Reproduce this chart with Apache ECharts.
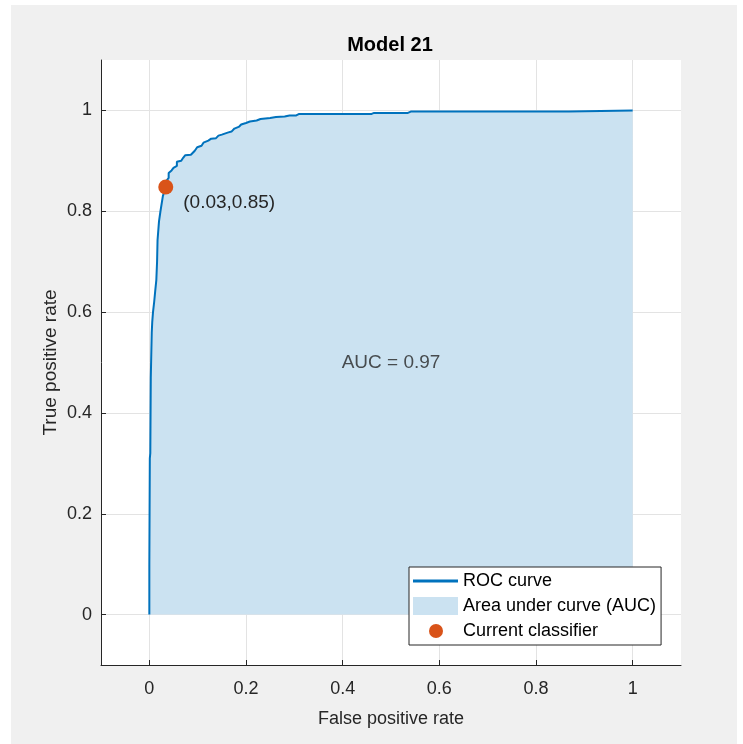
<!DOCTYPE html>
<html>
<head>
<meta charset="utf-8">
<script src="https://cdn.jsdelivr.net/npm/echarts@6/dist/echarts.min.js"></script>
<style>
  html, body { margin: 0; padding: 0; background: #ffffff; }
  #figure { position: absolute; left: 11px; top: 5px; width: 726px; height: 739px; background: #f0f0f0; }
  #chart { position: absolute; left: 0; top: 0; width: 743px; height: 744px; }
</style>
</head>
<body>
<div id="figure"></div>
<div id="chart"></div>
<script>
// ROC curve (false positive rate / true positive rate)
const rocFpr = [0, 0, 0.001, 0.002, 0.003, 0.005, 0.006, 0.0076, 0.01, 0.012, 0.0145, 0.016, 0.017, 0.02, 0.023, 0.028,
  0.034, 0.035, 0.04, 0.04, 0.046, 0.05, 0.057, 0.057, 0.066, 0.07, 0.074, 0.086, 0.09, 0.094, 0.099, 0.108, 0.112,
  0.122, 0.128, 0.138, 0.143, 0.15, 0.162, 0.17, 0.176, 0.186, 0.19, 0.2, 0.208, 0.222, 0.23, 0.25, 0.262, 0.28,
  0.29, 0.304, 0.31, 0.46, 0.465, 0.535, 0.542, 0.868, 0.872, 1];
const rocTpr = [0, 0.1, 0.31, 0.32, 0.47, 0.56, 0.58, 0.6, 0.62, 0.64, 0.664, 0.7, 0.743, 0.78, 0.8, 0.83,
  0.848, 0.86, 0.866, 0.876, 0.881, 0.886, 0.89, 0.898, 0.9, 0.906, 0.911, 0.912, 0.914, 0.92, 0.927, 0.93, 0.936,
  0.94, 0.944, 0.945, 0.95, 0.952, 0.956, 0.958, 0.964, 0.968, 0.972, 0.975, 0.978, 0.98, 0.983, 0.985, 0.987, 0.988,
  0.99, 0.99, 0.993, 0.993, 0.995, 0.995, 0.998, 0.998, 1, 1];

const classifierPoint = [0.034, 0.848];
const aucValue = 0.97;
const aucLabelPos = [0.5, 0.5];

const tickValues = [0, 0.2, 0.4, 0.6, 0.8, 1];
const axisMin = -0.1;
const axisMax = 1.1;

const rocData = rocFpr.map((x, i) => [x, rocTpr[i]]);

const AXIS_COLOR = '#262626';
const GRID_COLOR = '#e3e3e3';
const FONT = '"Liberation Sans", Arial, sans-serif';

const chart = echarts.init(document.getElementById('chart'));

function valueAxis(name, nameGap, rotate, labelMargin, nameSize) {
  return {
    type: 'value',
    min: axisMin,
    max: axisMax,
    name: name,
    nameLocation: 'middle',
    nameGap: nameGap,
    nameRotate: rotate,
    nameMoveOverlap: false,
    nameTextStyle: { color: AXIS_COLOR, fontSize: nameSize, fontFamily: FONT },
    axisLine: { show: true, onZero: false, lineStyle: { color: AXIS_COLOR, width: 1 } },
    axisTick: { show: true, inside: true, length: 5, customValues: tickValues, lineStyle: { color: AXIS_COLOR } },
    axisLabel: {
      customValues: tickValues,
      color: AXIS_COLOR,
      fontSize: 18,
      fontFamily: FONT,
      margin: labelMargin,
      formatter: (v) => String(+v.toFixed(1)),
    },
    splitLine: { show: true, customValues: tickValues, lineStyle: { color: GRID_COLOR, width: 1 } },
  };
}

const option = {
  backgroundColor: 'transparent',
  animation: false,
  title: {
    text: 'Model 21',
    left: 390,
    textAlign: 'center',
    top: 35,
    padding: 0,
    textStyle: { color: '#000000', fontSize: 20, fontWeight: 'bold', fontFamily: FONT },
  },
  grid: {
    left: 101,
    right: 62,
    top: 60,
    bottom: 79,
    show: true,
    backgroundColor: '#ffffff',
    borderWidth: 0,
  },
  xAxis: valueAxis('False positive rate', 45, 0, 15, 18),
  yAxis: valueAxis('True positive rate', 41, 90, 9, 19),
  legend: {
    orient: 'vertical',
    left: 409,
    top: 567,
    padding: [5, 5, 5, 4],
    itemGap: 7,
    itemWidth: 45,
    itemHeight: 18,
    backgroundColor: '#ffffff',
    borderColor: AXIS_COLOR,
    borderWidth: 1,
    borderRadius: 0,
    selectedMode: false,
    itemStyle: { borderWidth: 0 },
    textStyle: { color: '#000000', fontSize: 18, fontFamily: FONT },
    data: [
      { name: 'ROC curve', icon: 'path://M0,0 M45,18 M0,7.5 L45,7.5 L45,10.5 L0,10.5 Z' },
      { name: 'Area under curve (AUC)', icon: 'path://M0,0 L45,0 L45,18 L0,18 Z' },
      { name: 'Current classifier', icon: 'path://M0,0 M45,18 M30,9 A7,7 0 1 1 16,9 A7,7 0 1 1 30,9 Z' },
    ],
  },
  series: [
    {
      name: 'Area under curve (AUC)',
      type: 'line',
      data: rocData,
      symbol: 'none',
      itemStyle: { color: '#cbe2f1' },
      lineStyle: { width: 0 },
      areaStyle: { color: '#cbe2f1', opacity: 1 },
      z: 1,
    },
    {
      name: 'ROC curve',
      type: 'line',
      data: rocData,
      symbol: 'none',
      itemStyle: { color: '#0072bd' },
      lineStyle: { color: '#0072bd', width: 2 },
      z: 3,
    },
    {
      name: 'Current classifier',
      type: 'scatter',
      data: [classifierPoint],
      symbol: 'circle',
      symbolSize: 15,
      itemStyle: { color: '#d95319', opacity: 1 },
      label: {
        show: true,
        position: 'right',
        distance: 10,
        offset: [0, 16],
        color: AXIS_COLOR,
        fontSize: 19,
        fontFamily: FONT,
        formatter: (p) => '(' + p.value[0].toFixed(2) + ',' + p.value[1].toFixed(2) + ')',
      },
      z: 5,
    },
    {
      name: 'AUC label',
      type: 'scatter',
      data: [aucLabelPos],
      symbolSize: 0,
      silent: true,
      label: {
        show: true,
        position: 'inside',
        color: AXIS_COLOR,
        fontSize: 19,
        fontFamily: FONT,
        formatter: () => 'AUC = ' + aucValue.toFixed(2),
      },
      z: 4,
    },
  ],
};

chart.setOption(option);
</script>
</body>
</html>
